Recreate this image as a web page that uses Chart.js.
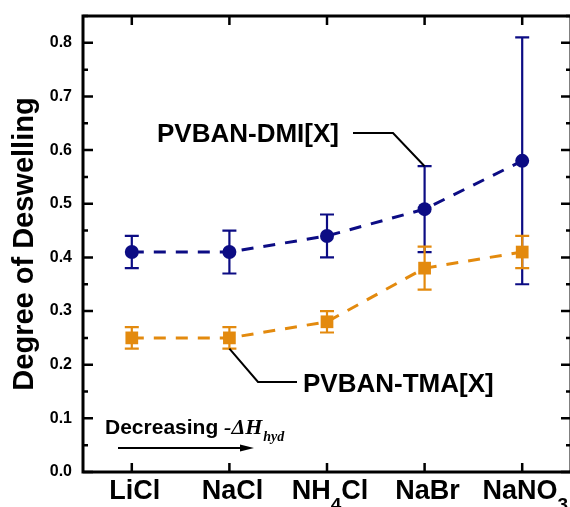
<!DOCTYPE html>
<html><head><meta charset="utf-8">
<script src="https://cdn.jsdelivr.net/npm/chart.js@4"></script>
<style>html,body{margin:0;padding:0;overflow:hidden;background:#fff}#wrap{width:580px;height:507px;position:relative}</style>
</head><body><div id="wrap"><canvas id="c"></canvas></div>
<script>
// ---- data ----
const categories = ['LiCl', 'NaCl', 'NH4Cl', 'NaBr', 'NaNO3'];
const dmiValues = [0.41, 0.41, 0.44, 0.49, 0.58];
const dmiLow    = [0.38, 0.37, 0.40, 0.41, 0.35];
const dmiHigh   = [0.44, 0.45, 0.48, 0.57, 0.81];
const tmaValues = [0.25, 0.25, 0.28, 0.38, 0.41];
const tmaLow    = [0.23, 0.23, 0.26, 0.34, 0.38];
const tmaHigh   = [0.27, 0.27, 0.30, 0.42, 0.44];
const yMin = 0, yMax = 0.85, yStep = 0.1, yMinorStep = 0.05;
const yTitle = 'Degree of Deswelling';
const dmiName = 'PVBAN-DMI[X]';
const tmaName = 'PVBAN-TMA[X]';
const arrowText = 'Decreasing';

const NAVY = '#0c0c84';
const ORANGE = '#e38a0e';
const FONT = 'Arial, "Liberation Sans", sans-serif';
const SERIF = '"Times New Roman", "Liberation Serif", serif';

const errorBars = {
  id: 'errorBars',
  beforeDatasetsDraw(chart) {
    const {ctx, scales: {x, y}} = chart;
    const sets = [[dmiLow, dmiHigh, NAVY], [tmaLow, tmaHigh, ORANGE]];
    ctx.save();
    sets.forEach(([lo, hi, col]) => {
      ctx.strokeStyle = col; ctx.lineWidth = 2.2;
      lo.forEach((l, i) => {
        const px = x.getPixelForValue(i);
        const y1 = y.getPixelForValue(l), y2 = y.getPixelForValue(hi[i]);
        ctx.beginPath();
        ctx.moveTo(px, y1); ctx.lineTo(px, y2);
        ctx.moveTo(px - 7, y1); ctx.lineTo(px + 7, y1);
        ctx.moveTo(px - 7, y2); ctx.lineTo(px + 7, y2);
        ctx.stroke();
      });
    });
    ctx.restore();
  }
};

const decor = {
  id: 'decor',
  afterDraw(chart) {
    const {ctx, chartArea: {left, right, top, bottom}, scales: {x, y}} = chart;
    ctx.save();
    // frame
    ctx.strokeStyle = '#000'; ctx.lineWidth = 3;
    ctx.strokeRect(left, top, right - left, bottom - top);
    // y ticks (inward, both sides)
    ctx.lineWidth = 2.5;
    const n = Math.round((yMax - yMin) / yMinorStep);
    for (let k = 0; k <= n; k++) {
      const v = yMin + k * yMinorStep;
      if (v > yMax + 1e-9) break;
      const py = y.getPixelForValue(v);
      const len = (k % 2 === 0) ? 10 : 5;
      ctx.beginPath();
      ctx.moveTo(left, py); ctx.lineTo(left + len, py);
      ctx.moveTo(right, py); ctx.lineTo(right - len, py);
      ctx.stroke();
    }
    // x ticks
    categories.forEach((c, i) => {
      const px = x.getPixelForValue(i);
      ctx.beginPath();
      ctx.moveTo(px, bottom); ctx.lineTo(px, bottom - 9);
      ctx.moveTo(px, top); ctx.lineTo(px, top + 9);
      ctx.stroke();
    });
    // x labels with subscripts
    ctx.fillStyle = '#000';
    ctx.textBaseline = 'alphabetic';
    ctx.textAlign = 'left';
    const mainF = 'bold 27px ' + FONT, subF = 'bold 19px ' + FONT;
    categories.forEach((c, i) => {
      const parts = c.match(/\d+|\D+/g);
      let w = 0;
      parts.forEach(p => { ctx.font = /\d/.test(p) ? subF : mainF; w += ctx.measureText(p).width; });
      let cx = x.getPixelForValue(i) - w / 2 + 3;
      const by = bottom + 27;
      parts.forEach(p => {
        const sub = /\d/.test(p);
        ctx.font = sub ? subF : mainF;
        ctx.fillText(p, cx, sub ? by + 12 : by);
        cx += ctx.measureText(p).width;
      });
    });
    // annotation: DMI
    ctx.font = 'bold 26px ' + FONT;
    ctx.fillText(dmiName, 157, 142);
    ctx.lineWidth = 2;
    ctx.strokeStyle = '#000';
    const dAx = x.getPixelForValue(3), dAy = y.getPixelForValue(dmiHigh[3]);
    ctx.beginPath();
    ctx.moveTo(353, 133); ctx.lineTo(393, 133); ctx.lineTo(dAx, dAy);
    ctx.stroke();
    // annotation: TMA
    ctx.fillText(tmaName, 303, 392);
    const tAx = x.getPixelForValue(1), tAy = y.getPixelForValue(tmaLow[1]);
    ctx.beginPath();
    ctx.moveTo(tAx, tAy); ctx.lineTo(258, 382); ctx.lineTo(297, 382);
    ctx.stroke();
    // Decreasing -ΔH_hyd
    ctx.font = 'bold 21px ' + FONT;
    ctx.fillText(arrowText, 105, 434);
    let ax = 105 + ctx.measureText(arrowText + ' ').width;
    ctx.font = 'italic bold 22px ' + SERIF;
    ctx.fillText('-\u0394H', ax, 434);
    ax += ctx.measureText('-\u0394H').width + 1;
    ctx.font = 'italic bold 14px ' + SERIF;
    ctx.fillText('hyd', ax, 441);
    // arrow
    ctx.lineWidth = 2;
    ctx.beginPath(); ctx.moveTo(118, 448); ctx.lineTo(243, 448); ctx.stroke();
    ctx.beginPath(); ctx.moveTo(254, 448); ctx.lineTo(240, 444.5); ctx.lineTo(240, 451.5); ctx.closePath();
    ctx.fillStyle = '#000'; ctx.fill();
    ctx.restore();
  }
};

new Chart(document.getElementById('c'), {
  type: 'line',
  data: {
    labels: categories,
    datasets: [
      { label: dmiName, data: dmiValues, borderColor: NAVY, backgroundColor: NAVY,
        borderWidth: 3, borderDash: [12, 10], pointStyle: 'circle', pointRadius: 7,
        pointBorderWidth: 0, tension: 0 },
      { label: tmaName, data: tmaValues, borderColor: ORANGE, backgroundColor: ORANGE,
        borderWidth: 3, borderDash: [12, 10], pointStyle: 'rect', pointRadius: 9,
        pointBorderWidth: 0, tension: 0 }
    ]
  },
  options: {
    responsive: true, maintainAspectRatio: false, animation: false,
    layout: { padding: { top: 16, right: 8, left: 0, bottom: 0 } },
    plugins: { legend: { display: false }, tooltip: { enabled: false } },
    scales: {
      x: { type: 'category', offset: true,
        grid: { display: false, drawTicks: false }, border: { display: false },
        ticks: { display: false },
        afterFit: s => { s.height = 35; s.paddingLeft = 0; s.paddingRight = 0; } },
      y: { min: yMin, max: yMax,
        grid: { display: false, drawTicks: false }, border: { display: false },
        ticks: { stepSize: yStep, includeBounds: false, padding: 11, color: '#000',
          font: { family: FONT, size: 16, weight: 'bold' },
          callback: v => Number(v).toFixed(1) },
        title: { display: true, text: yTitle, color: '#000',
          font: { family: FONT, size: 29, weight: 'bold' }, padding: { top: 8, bottom: 0 } },
        afterFit: s => { s.width = 83; s.paddingTop = 0; s.paddingBottom = 0; } }
    }
  },
  plugins: [errorBars, decor]
});
</script></body></html>
